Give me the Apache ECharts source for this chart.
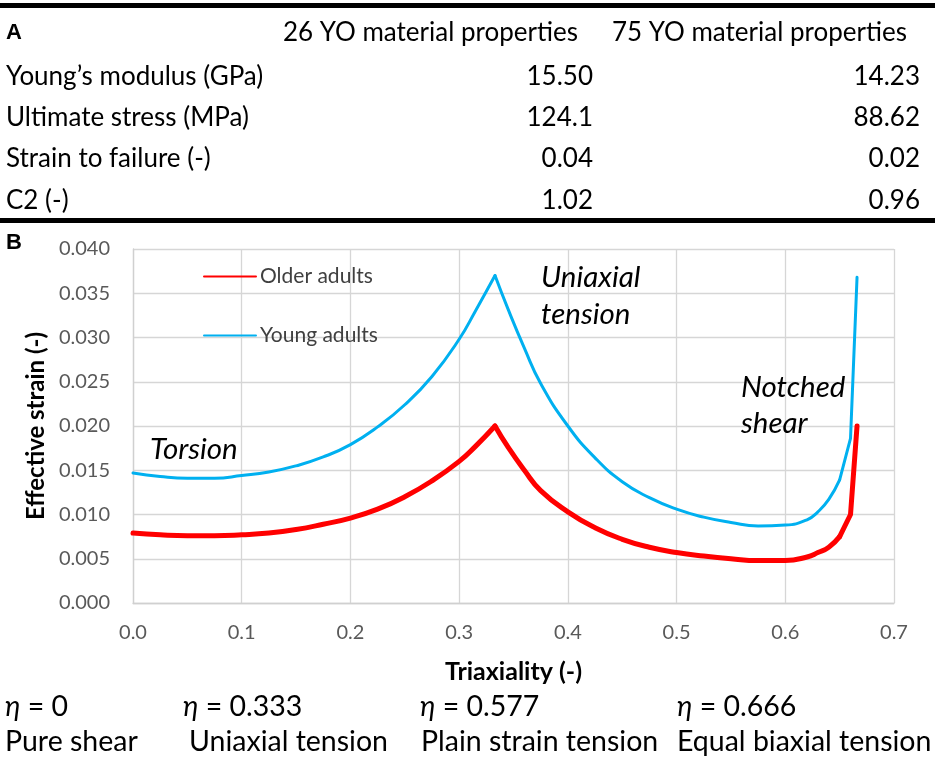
<!DOCTYPE html>
<html>
<head>
<meta charset="utf-8">
<title>Effective strain vs triaxiality</title>
<script src="https://cdn.jsdelivr.net/npm/echarts@6/dist/echarts.min.js"></script>
<style>
  html, body { margin: 0; padding: 0; background: #fff; }
  #chart { width: 935px; height: 760px; }
</style>
</head>
<body>
<div id="chart"></div>
<script>
  // table (panel A)
  var tableHeads = ['26 YO material properties', '75 YO material properties'];
  var propNames = ['Young\u2019s modulus (GPa)', 'Ultimate stress (MPa)', 'Strain to failure (-)', 'C2 (-)'];
  var props26 = ['15.50', '124.1', '0.04', '1.02'];
  var props75 = ['14.23', '88.62', '0.02', '0.96'];

  // curves (panel B)
  var triaxiality = [0, 0.025, 0.05, 0.075, 0.1, 0.125, 0.15, 0.175, 0.2, 0.225, 0.25, 0.275, 0.3, 0.315, 0.333,
    0.345, 0.36, 0.375, 0.4, 0.425, 0.45, 0.475, 0.5, 0.525, 0.55, 0.575, 0.6, 0.62, 0.63, 0.64, 0.65, 0.66, 0.666];
  var olderAdults = [0.0079, 0.0077, 0.0076, 0.0076, 0.0077, 0.0079, 0.0083, 0.0089, 0.0096, 0.0106, 0.0120, 0.0138, 0.0160, 0.0177, 0.0200,
    0.0176, 0.0150, 0.0127, 0.0103, 0.0085, 0.0072, 0.0063, 0.0057, 0.0053, 0.0050, 0.0048, 0.0048, 0.0052, 0.0057, 0.0063, 0.0075, 0.0100, 0.0200];
  var youngAdults = [0.0147, 0.0143, 0.0141, 0.0141, 0.0144, 0.0148, 0.0155, 0.0165, 0.0179, 0.0199, 0.0224, 0.0256, 0.0298, 0.0330, 0.0370,
    0.0332, 0.0288, 0.0248, 0.0200, 0.0164, 0.0137, 0.0119, 0.0106, 0.0097, 0.0091, 0.0087, 0.0088, 0.0094, 0.0103, 0.0117, 0.0139, 0.0186, 0.0368];

  // states listed under the chart
  var etaLabels = ['0', '0.333', '0.577', '0.666'];
  var stateNames = ['Pure shear', 'Uniaxial tension', 'Plain strain tension', 'Equal biaxial tension'];

  var FONT = 'Lato, "Open Sans", sans-serif';
  var PEAK = 14;   // index of eta = 0.333
  var KNEE = 30;   // after this the curves are straight segments

  function pairs(xs, ys, from, to) {
    var out = [];
    for (var i = from; i <= to; i++) out.push([xs[i], ys[i]]);
    return out;
  }

  function txt(s, x, y, size, opts) {
    opts = opts || {};
    return {
      type: 'text',
      silent: true,
      z: 100,
      style: {
        text: s,
        x: x,
        y: y,
        fontFamily: FONT,
        fontSize: size,
        fontStyle: opts.style || 'normal',
        fill: '#000',
        align: opts.align || 'left',
        verticalAlign: 'middle',
        rich: opts.rich
      }
    };
  }

  function panelLetter(s, x, y) {
    return {
      type: 'text',
      silent: true,
      z: 100,
      style: {
        text: s,
        x: x,
        y: y,
        font: 'bold 22px "Liberation Sans", Arial, sans-serif',
        fill: '#000',
        align: 'left',
        verticalAlign: 'middle'
      }
    };
  }

  var graphics = [];
  // table rules
  graphics.push({ type: 'rect', silent: true, shape: { x: 0, y: 3, width: 935, height: 5 }, style: { fill: '#000' } });
  graphics.push({ type: 'rect', silent: true, shape: { x: 0, y: 218, width: 935, height: 5 }, style: { fill: '#000' } });
  graphics.push(panelLetter('A', 6, 33));
  graphics.push(txt(tableHeads[0], 578, 33, 26, { align: 'right' }));
  graphics.push(txt(tableHeads[1], 907, 33, 26, { align: 'right' }));
  var rowY = [77, 118, 159, 201];
  propNames.forEach(function (name, i) {
    graphics.push(txt(name, 6, rowY[i], 26));
    graphics.push(txt(props26[i], 593, rowY[i], 26, { align: 'right' }));
    graphics.push(txt(props75[i], 920, rowY[i], 26, { align: 'right' }));
  });
  graphics.push(panelLetter('B', 6, 243));

  // annotations in the plot
  graphics.push(txt('Torsion', 150, 449, 29.5, { style: 'italic' }));
  graphics.push(txt('Uniaxial', 541, 277, 29.5, { style: 'italic' }));
  graphics.push(txt('tension', 541, 314, 29.5, { style: 'italic' }));
  graphics.push(txt('Notched', 741, 387, 29.5, { style: 'italic' }));
  graphics.push(txt('shear', 741, 423, 29.5, { style: 'italic' }));

  // bottom rows
  var colX = [5, 183, 420, 677];
  var nameX = [5, 189, 421, 677];
  etaLabels.forEach(function (v, i) {
    graphics.push(txt('{e|\u03b7} = ' + v, colX[i], 707, 28.5, {
      rich: { e: { fontFamily: FONT, fontSize: 28.5, fontStyle: 'italic', fill: '#000' } }
    }));
    graphics.push(txt(stateNames[i], nameX[i], 742, 28.5));
  });

  function curve(name, ys, color, width, z) {
    var base = {
      name: name,
      type: 'line',
      symbol: 'none',
      lineStyle: { color: color, width: width, join: 'round', cap: 'round' },
      itemStyle: { color: color },
      z: z
    };
    return [
      Object.assign({}, base, { smooth: 0.5, data: pairs(triaxiality, ys, 0, PEAK) }),
      Object.assign({}, base, { smooth: 0.5, data: pairs(triaxiality, ys, PEAK, KNEE) }),
      Object.assign({}, base, { smooth: false, data: pairs(triaxiality, ys, KNEE, triaxiality.length - 1) })
    ];
  }

  var chart = echarts.init(document.getElementById('chart'));
  chart.setOption({
    animation: false,
    backgroundColor: '#fff',
    textStyle: { fontFamily: FONT },
    grid: { left: 133, right: 41, top: 249, bottom: 157, containLabel: false },
    legend: {
      orient: 'vertical',
      left: 203,
      top: 266,
      padding: 0,
      itemWidth: 52,
      itemHeight: 14,
      itemGap: 38,
      data: ['Older adults', 'Young adults'],
      itemStyle: { opacity: 0 },
      textStyle: { fontFamily: FONT, fontSize: 21, color: '#404040', padding: [0, 0, 0, -1] }
    },
    xAxis: {
      type: 'value',
      min: 0,
      max: 0.7,
      interval: 0.1,
      name: 'Triaxiality (-)',
      nameLocation: 'middle',
      nameGap: 56,
      nameTextStyle: { fontFamily: FONT, fontSize: 25, fontWeight: 'bold', color: '#000' },
      axisLine: { show: true, lineStyle: { color: '#d0d0d0', width: 1.3 } },
      axisTick: { show: false },
      axisLabel: {
        margin: 20,
        fontSize: 20,
        color: '#595959',
        formatter: function (v) { return v.toFixed(1); }
      },
      splitLine: { show: true, lineStyle: { color: '#d6d6d6', width: 1.3 } }
    },
    yAxis: {
      type: 'value',
      min: 0,
      max: 0.04,
      interval: 0.005,
      name: 'Effective strain (-)',
      nameLocation: 'middle',
      nameRotate: 90,
      nameGap: 84,
      nameTextStyle: { fontFamily: FONT, fontSize: 24, fontWeight: 'bold', color: '#000' },
      axisLine: { show: true, lineStyle: { color: '#d0d0d0', width: 1.3 } },
      axisTick: { show: false },
      axisLabel: {
        margin: 23,
        fontSize: 20,
        color: '#595959',
        formatter: function (v) { return v.toFixed(3); }
      },
      splitLine: { show: true, lineStyle: { color: '#d6d6d6', width: 1.3 } }
    },
    series: curve('Older adults', olderAdults, '#ff0000', 5, 3)
      .concat(curve('Young adults', youngAdults, '#00b0f0', 3, 4)),
    graphic: graphics
  });
</script>
</body>
</html>
